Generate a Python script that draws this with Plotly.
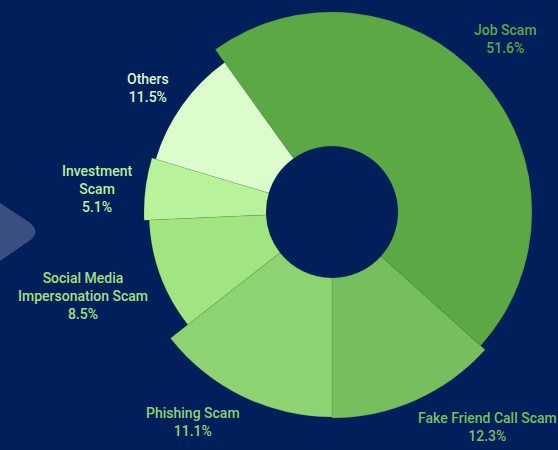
import plotly.graph_objects as go

# ---- data ----
categories = ["Job Scam", "Fake Friend Call Scam", "Phishing Scam",
              "Social Media<br>Impersonation Scam", "Investment<br>Scam", "Others"]
percent_labels = [51.6, 12.3, 11.1, 8.5, 5.1, 11.5]
slice_degrees = [167.7, 48.0, 52.0, 35.5, 19.2, 37.6]   # angular span as drawn
outer_radius = [200, 206, 205, 183, 188, 184]           # radial extent (px units)

# ---- styling ----
W, H = 558, 450
BG = "#001f5b"
CX, CY = 332, 212          # pie centre (px)
RMAX = 210                 # radial axis range -> px
HOLE = 66
START = -35.7              # first slice start angle (clockwise from north)
colors = ["#5ba845", "#77bf5e", "#8dd372", "#a0e57f", "#b8f29b", "#dcfccb"]
text_colors = ["#5aa846", "#77bf5e", "#8dd372", "#a0e27e", "#b8f09c", "#d8f7c8"]
label_px = [(505, 39), (487, 427), (193, 422), (83, 296), (97, 189), (148, 88)]

theta, acc = [], START
for d in slice_degrees:
    theta.append(acc + d / 2)
    acc += d

fig = go.Figure()
fig.add_trace(go.Barpolar(
    theta=theta,
    width=slice_degrees,
    r=[o - HOLE for o in outer_radius],
    base=[HOLE] * len(outer_radius),
    marker=dict(color=colors, line=dict(color="rgba(60,120,50,0.35)", width=0.5)),
    hoverinfo="text",
    text=[f"{c.replace('<br>', ' ')}: {p}%" for c, p in zip(categories, percent_labels)],
    showlegend=False,
))

fig.update_layout(
    width=W, height=H,
    margin=dict(l=0, r=0, t=0, b=0),
    paper_bgcolor=BG, plot_bgcolor=BG,
    polar=dict(
        domain=dict(x=[(CX - RMAX) / W, (CX + RMAX) / W],
                    y=[1 - (CY + RMAX) / H, 1 - (CY - RMAX) / H]),
        bgcolor="rgba(0,0,0,0)",
        radialaxis=dict(range=[0, RMAX], visible=False, showgrid=False),
        angularaxis=dict(direction="clockwise", rotation=90, visible=False,
                         showgrid=False, showline=False, showticklabels=False, ticks=""),
        bargap=0,
    ),
)

# decorative chevron at left
def px(x, y):
    return f"{x / W:.4f},{1 - y / H:.4f}"

path = (f"M {px(0, 203)} L {px(29, 222)} Q {px(42, 232)} {px(29, 241)} "
        f"L {px(0, 261)} Z")
fig.add_shape(type="path", path=path, xref="paper", yref="paper",
              fillcolor="#3a4f80", line=dict(width=0), layer="below")

for cat, p, col, (lx, ly) in zip(categories, percent_labels, text_colors, label_px):
    fig.add_annotation(
        x=lx / W, y=1 - ly / H, xref="paper", yref="paper",
        text=f"{cat}<br>{p}%", showarrow=False,
        xanchor="center", yanchor="middle", align="center",
        font=dict(family="Roboto", size=14, color=col, weight=500),
    )

fig.write_html("out.html", config={"displayModeBar": False},
               post_script="document.body.style.margin='0';document.body.style.overflow='hidden';")
